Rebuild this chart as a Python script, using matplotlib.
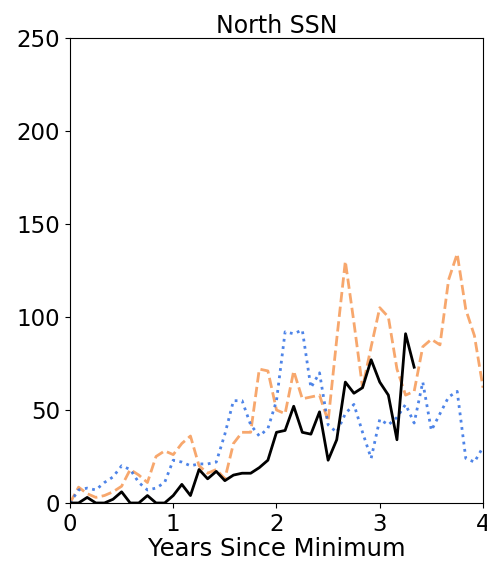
import numpy as np
import matplotlib
matplotlib.use("Agg")
import matplotlib.pyplot as plt

# monthly samples, years since minimum
black_ssn = [0, 0, 3, 0, 0, 2, 6, 0, 0, 4, 0, 0, 4, 10, 4, 18, 13, 17, 12, 15,
             16, 16, 19, 23, 38, 39, 52, 38, 37, 49, 23, 34, 65, 59, 62, 77, 65, 58, 34, 91,
             73]
orange_ssn = [0, 8.5, 5, 3, 4, 6, 9, 18, 15, 11, 25, 28, 26, 32, 36, 20, 16, 18, 13, 32,
              38, 38, 72, 71, 50, 48, 71, 56, 57, 58, 44, 88, 130, 97, 62, 84, 105, 100, 72, 58,
              60, 84, 88, 85, 120, 134, 104, 90, 62]
blue_ssn = [0, 7, 8, 7, 11, 14, 20, 18, 11, 7, 8, 11, 23, 22, 20, 21, 21, 22, 37, 55,
            55, 42, 36, 40, 55, 92, 91, 93, 62, 70, 42, 38, 48, 53, 38, 24, 45, 42, 46, 53,
            43, 65, 39, 48, 57, 60, 24, 22, 30]

t_black = np.arange(len(black_ssn)) / 12
t_orange = np.arange(len(orange_ssn)) / 12
t_blue = np.arange(len(blue_ssn)) / 12

plt.rcParams['font.size'] = 16.5

fig = plt.figure(figsize=(4.87, 5.67), dpi=100)
ax = fig.add_axes([0.1437, 0.1129, 0.8481, 0.8201])

ax.plot(t_orange, orange_ssn, color='#f58a3c', ls='--', lw=2, alpha=0.75)
ax.plot(t_blue, blue_ssn, color='#2f6fe4', ls=':', lw=2, alpha=0.85)
ax.plot(t_black, black_ssn, color='black', lw=2)

ax.set_xlim(0, 4)
ax.set_ylim(0, 250)
ax.set_xticks([0, 1, 2, 3, 4])
ax.set_yticks([0, 50, 100, 150, 200, 250])
ax.set_xlabel('Years Since Minimum', fontsize=17.5, labelpad=1)
ax.set_title('North SSN', fontsize=17, pad=3)

fig.savefig('out.png', dpi=100)
